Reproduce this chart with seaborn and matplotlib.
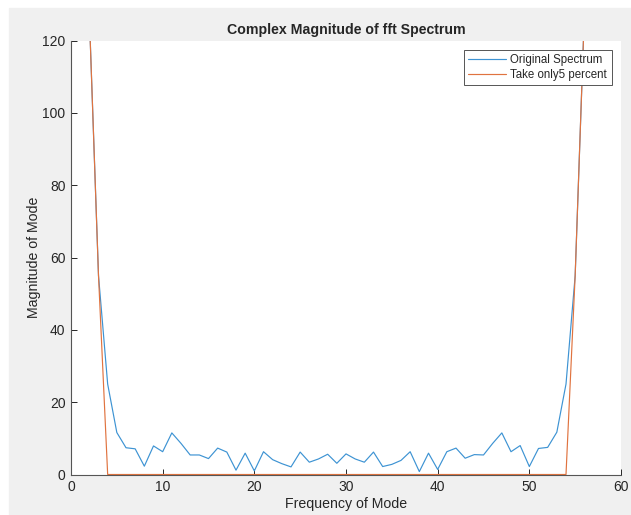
# Complex magnitude of fft spectrum - original vs. top 5 percent
import pandas as pd
import matplotlib
matplotlib.use("Agg")
import matplotlib.pyplot as plt
from matplotlib.patches import Rectangle
import seaborn as sns

# Data (mode index 1..56, DC value is off the scale)
freq = list(range(1, 57))
original = [300, 127, 55, 25, 11.6, 7.4, 7.1, 2.3, 7.9, 6.3,
            11.5, 8.6, 5.4, 5.4, 4.4, 7.3, 6.2, 1.2, 5.9, 1.0,
            6.3, 4.1, 3.0, 2.1, 6.2, 3.4, 4.3, 5.6, 3.1, 5.7,
            4.3, 3.4, 6.2, 2.2, 2.8, 3.9, 6.3, 0.8, 5.9, 1.4,
            6.3, 7.3, 4.5, 5.5, 5.4, 8.6, 11.5, 6.3, 8.0, 2.2,
            7.2, 7.5, 11.7, 25, 55, 127]
top5 = [300, 127, 55] + [0] * 51 + [55, 127]
labels = ["Original Spectrum", "Take only5 percent"]
x_ticks = [0, 10, 20, 30, 40, 50, 60]
y_ticks = [0, 20, 40, 60, 80, 100, 120]

df = pd.DataFrame({
    "freq": freq * 2,
    "mag": original + top5,
    "series": [labels[0]] * len(freq) + [labels[1]] * len(freq),
})

sns.set_style("ticks")
plt.rcParams['font.family'] = ['Liberation Sans', 'DejaVu Sans']
ink = "#262626"

fig = plt.figure(figsize=(6.31, 5.15), dpi=100, facecolor="white")
# grey MATLAB figure background (screenshot has a thin white margin top/left)
fig.patches.append(Rectangle((9 / 631, 0), 1, (515 - 8) / 515,
                             transform=fig.transFigure, color="#f0f0f0", zorder=-10))
ax = fig.add_axes([71 / 631, 40.5 / 515, 550 / 631, 434 / 515])
ax.set_facecolor("white")

sns.lineplot(data=df, x="freq", y="mag", hue="series", estimator=None,
             palette=["#3d93d3", "#e0733f"], linewidth=0.85, ax=ax)

ax.set_xlim(0, 60)
ax.set_ylim(0, 120)
ax.set_xticks(x_ticks)
ax.set_yticks(y_ticks)
ax.tick_params(direction="in", length=4, width=0.7, colors=ink, labelsize=10, pad=4)
for s in ["top", "right"]:
    ax.spines[s].set_visible(False)
for s in ["left", "bottom"]:
    ax.spines[s].set_color("#555555")
    ax.spines[s].set_linewidth(0.8)

ax.set_title("Complex Magnitude of fft Spectrum", fontsize=10.2, fontweight="bold", pad=5)
ax.set_xlabel("Frequency of Mode", fontsize=10.2, color=ink, labelpad=2)
ax.set_ylabel("Magnitude of Mode", fontsize=10.2, color=ink, labelpad=1)

leg = ax.legend(loc="upper right", fontsize=8.3, frameon=True, fancybox=False,
                framealpha=1, edgecolor="#555555", handlelength=3.3, borderaxespad=0.8,
                borderpad=0.4, labelspacing=0.2, handletextpad=0.35)
leg.get_frame().set_linewidth(0.7)

fig.savefig("out.png", dpi=100, facecolor=fig.get_facecolor())
